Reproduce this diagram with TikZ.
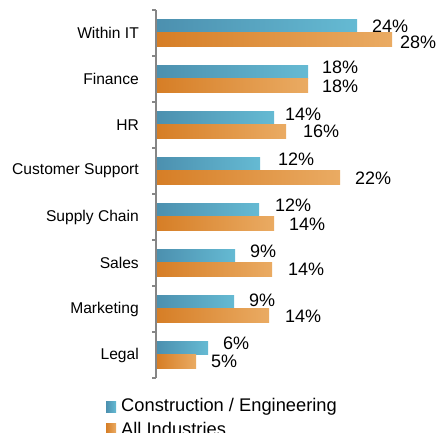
\documentclass[tikz,border=0pt]{standalone}
\usepackage{fontspec}
\setmainfont{Liberation Sans}
\usepackage{tikz}
\usetikzlibrary{positioning}
\usepackage{xcolor}
\definecolor{constructblue}{RGB}{76,144,175}
\definecolor{constructlight}{RGB}{101,186,211}
\definecolor{allorange}{RGB}{214,126,38}
\definecolor{alllight}{RGB}{234,171,99}
\definecolor{axisgray}{RGB}{134,134,134}

\tikzset{
  catlabel/.style={anchor=east, inner sep=0pt, font=\fontsize{15.6}{18}\selectfont},
  pctlabel/.style={anchor=west, inner sep=0pt, font=\fontsize{18}{20}\selectfont},
  legendlabel/.style={anchor=west, inner sep=0pt, font=\fontsize{18.3}{20}\selectfont}
}

\begin{document}
\begin{tikzpicture}[x=1pt, y=-1pt]
  \useasboundingbox (0,0) rectangle (436,432);

  % Bars, category names and values
  \foreach \i/\cat/\cb/\co/\vb/\vo/\xb/\yb/\xo/\yo in {
      0/Within IT/357/392/24/28/372/26.5/400/42,
      1/Finance/308/308/18/18/322/67.5/322/86,
      2/HR/274/286/14/16/285/114/303/131,
      3/Customer Support/260/340/12/22/278/159/355/178,
      4/Supply Chain/259/274/12/14/275/205/289/224,
      5/Sales/235/272/9/14/250/251/288/269,
      6/Marketing/234/269/9/14/249/300/285/316,
      7/Legal/208/196/6/5/223/343/211/361}{
    \pgfmathsetmacro{\t}{10+46*\i}
    \shade[left color=constructblue, right color=constructlight]
      (157,\t+9) rectangle (\cb,\t+22.5);
    \shade[left color=allorange, right color=alllight]
      (157,\t+22.5) rectangle (\co,\t+36);
    \node[catlabel] (cat\i) at (139,\t+23) {\cat};
    \node[pctlabel] (vb\i) at (\xb,\yb) {\vb\%};
    \node[pctlabel] (vo\i) at (\xo,\yo) {\vo\%};
  }

  % Category axis with ticks
  \draw[axisgray, line width=1.6pt] (156,10) -- (156,378);
  \foreach \i in {0,...,8}{
    \draw[axisgray, line width=1.2pt] (152,10+46*\i) -- (156,10+46*\i);
  }

  % Legend
  \shade[left color=constructblue, right color=constructlight]
    (106,401) rectangle (116,412);
  \node[legendlabel] (legconstruct) at (121,406.5) {Construction / Engineering};
  \shade[left color=allorange, right color=alllight]
    (106,423) rectangle (116,434);
  \node[legendlabel] (legall) at (121,428.5) {All Industries};
\end{tikzpicture}
\end{document}
